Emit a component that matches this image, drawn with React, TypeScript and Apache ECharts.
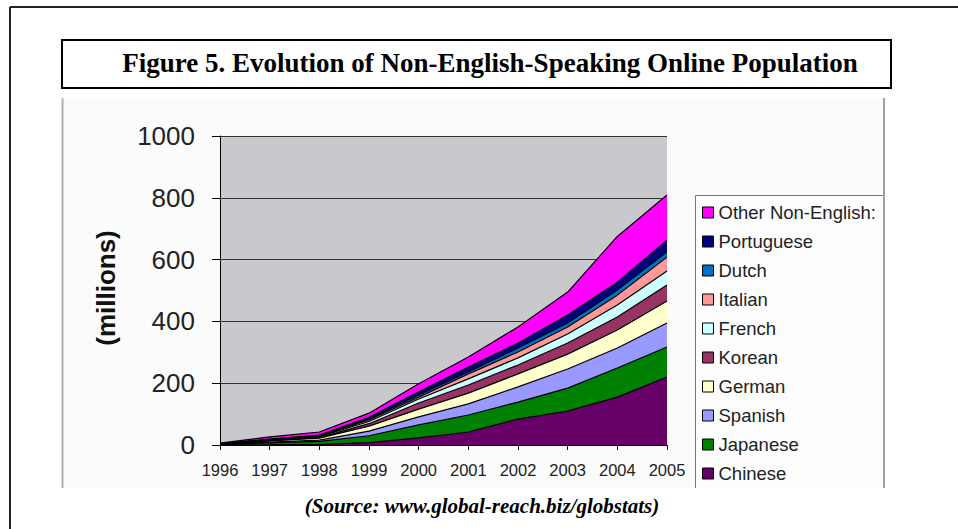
import React, { useEffect, useRef } from "react";
import * as echarts from "echarts";

const years = ["1996", "1997", "1998", "1999", "2000", "2001", "2002", "2003", "2004", "2005"];

// stacked bottom -> top (values in millions, increments per language)
const chinese = [0.5, 1, 2, 8, 23, 42, 84, 110, 155, 220];
const japanese = [0.5, 6, 10, 22, 42, 55, 55, 74, 94, 97];
const spanish = [0.5, 2, 4, 15, 26, 36, 49, 62, 65, 78];
const german = [0.5, 4, 6, 16, 25, 35, 42, 48, 58, 71];
const korean = [0.5, 1, 2, 8, 20, 26, 29, 36, 42, 52];
const french = [0.5, 2, 3, 7, 13, 20, 23, 29, 39, 45];
const italian = [0.5, 1, 2, 5, 6, 16, 19, 23, 32, 45];
const dutch = [0.5, 1, 1, 3, 7, 6, 13, 13, 17, 17];
const portuguese = [0.5, 1, 2, 6, 10, 16, 16, 26, 25, 38];
const otherNonEnglish = [1.5, 7, 10, 13, 26, 33, 52, 74, 148, 146];

const seriesNames = [
  "Chinese", "Japanese", "Spanish", "German", "Korean",
  "French", "Italian", "Dutch", "Portuguese", "Other Non-English:",
];
const seriesValues = [chinese, japanese, spanish, german, korean, french, italian, dutch, portuguese, otherNonEnglish];
const seriesColors = [
  "#660066", "#008000", "#9999ff", "#ffffcc", "#993366",
  "#ccffff", "#ff9999", "#0070c0", "#000080", "#ff00ff",
];

const yTicks = [0, 200, 400, 600, 800, 1000];

export default function App() {
  const ref = useRef<HTMLDivElement>(null);
  useEffect(() => {
    if (!ref.current) return;
    const chart = echarts.init(ref.current, null, { renderer: "svg" });
    const series = seriesNames.map((name, i) => ({
      name,
      type: "line",
      stack: "total",
      data: seriesValues[i],
      symbol: "none",
      smooth: false,
      lineStyle: { color: "#000", width: 1.2 },
      itemStyle: { color: seriesColors[i] },
      areaStyle: { color: seriesColors[i], opacity: 1 },
      z: 3,
    }));
    chart.setOption({
      animation: false,
      backgroundColor: "#ffffff",
      graphic: [
        // outer frame
        { type: "line", shape: { x1: 10, y1: 7, x2: 958, y2: 7 }, style: { stroke: "#222", lineWidth: 2 }, z: 0 },
        { type: "line", shape: { x1: 10, y1: 7, x2: 10, y2: 529 }, style: { stroke: "#222", lineWidth: 2 }, z: 0 },
        // chart picture background
        { type: "rect", shape: { x: 62, y: 98, width: 822, height: 390 }, style: { fill: "#fbfbfb" }, z: -10 },
        { type: "line", shape: { x1: 62.5, y1: 98, x2: 62.5, y2: 488 }, style: { stroke: "#b0b0b0", lineWidth: 2 }, z: 0 },
        { type: "line", shape: { x1: 884, y1: 98, x2: 884, y2: 488 }, style: { stroke: "#a0a0a0", lineWidth: 2 }, z: 0 },
        // title box
        { type: "rect", shape: { x: 62, y: 40, width: 829, height: 48 }, style: { fill: "#fff", stroke: "#000", lineWidth: 2 }, z: 1 },
        {
          type: "text", x: 490, y: 63, z: 2,
          style: {
            text: "Figure 5. Evolution of Non-English-Speaking Online Population",
            font: "bold 27px 'Liberation Serif', 'Times New Roman', serif",
            fill: "#000", textAlign: "center", textVerticalAlign: "middle",
          },
        },
        // y axis name
        {
          type: "text", x: 106, y: 288, rotation: Math.PI / 2, z: 2,
          style: {
            text: "(millions)",
            font: "bold 26px 'Liberation Sans', Arial, sans-serif",
            fill: "#111", textAlign: "center", textVerticalAlign: "middle",
          },
        },
        // legend box (cut off by the picture's edges)
        { type: "rect", shape: { x: 695, y: 195, width: 188, height: 293 }, style: { fill: "#fdfdfd" }, z: 0 },
        { type: "line", shape: { x1: 695.5, y1: 195.5, x2: 883, y2: 195.5 }, style: { stroke: "#777", lineWidth: 1 }, z: 0 },
        { type: "line", shape: { x1: 695.5, y1: 195.5, x2: 695.5, y2: 488 }, style: { stroke: "#777", lineWidth: 1 }, z: 0 },
        // source
        {
          type: "text", x: 482, y: 506, z: 2,
          style: {
            text: "(Source: www.global-reach.biz/globstats)",
            font: "italic bold 21px 'Liberation Serif', 'Times New Roman', serif",
            fill: "#000", textAlign: "center", textVerticalAlign: "middle",
          },
        },
      ],
      grid: {
        left: 220, top: 136, width: 447, height: 309,
        show: true, backgroundColor: "#c9c8cc", borderWidth: 0,
      },
      legend: {
        orient: "vertical",
        left: 702, top: 203,
        padding: 0,
        itemWidth: 11, itemHeight: 11, itemGap: 10,
        icon: "rect",
        data: [...seriesNames].reverse(),
        itemStyle: { borderColor: "#000", borderWidth: 1 },
        textStyle: { fontFamily: "'Liberation Sans', Arial, sans-serif", fontSize: 18.5, lineHeight: 18, color: "#222" },
        selectedMode: false,
      },
      xAxis: {
        type: "category",
        data: years,
        boundaryGap: false,
        axisLine: { show: true, lineStyle: { color: "#000", width: 1 } },
        axisTick: { show: true, alignWithLabel: true, length: 5, lineStyle: { color: "#000" } },
        axisLabel: { fontFamily: "'Liberation Sans', Arial, sans-serif", fontSize: 16.5, color: "#222", margin: 16 },
        splitLine: { show: false },
      },
      yAxis: {
        type: "value",
        min: 0, max: 1000, interval: 200,
        axisLine: { show: true, lineStyle: { color: "#000", width: 1 } },
        axisTick: { show: true, length: 8, lineStyle: { color: "#000" } },
        axisLabel: {
          fontFamily: "'Liberation Sans', Arial, sans-serif", fontSize: 26, color: "#222", margin: 25,
          formatter: (v: number) => (yTicks.includes(v) ? String(v) : ""),
        },
        splitLine: { show: true, lineStyle: { color: "#333", width: 1 } },
      },
      series,
    });
    return () => chart.dispose();
  }, []);
  return (
    <div
      ref={ref}
      style={{ position: "fixed", left: 0, top: 0, width: 958, height: 529 }}
    />
  );
}
